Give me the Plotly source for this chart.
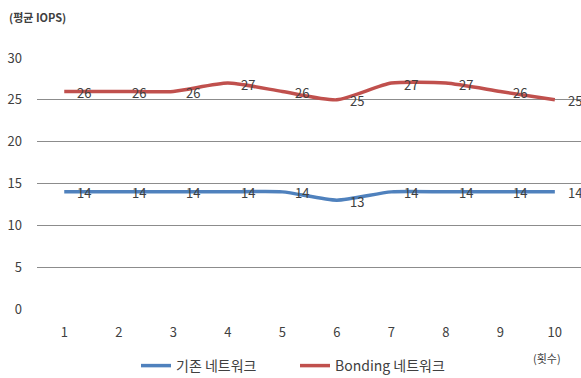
import plotly.graph_objects as go

rounds = [1, 2, 3, 4, 5, 6, 7, 8, 9, 10]
existing_net = [14, 14, 14, 14, 14, 13, 14, 14, 14, 14]
bonding_net = [26, 26, 26, 27, 26, 25, 27, 27, 26, 25]
series_names = ["기존 네트워크", "Bonding 네트워크"]
y_ticks = [0, 5, 10, 15, 20, 25, 30]

FONT = "Noto Sans CJK KR"
TXT = "#404040"
W, H = 581, 378
L, R, T, B = 37, 0, 58, 69

fig = go.Figure()
for name, vals, color in [
    (series_names[0], existing_net, "#4F81BD"),
    (series_names[1], bonding_net, "#C0504D"),
]:
    fig.add_trace(go.Scatter(
        x=rounds, y=vals, name=name, mode="lines",
        line=dict(color=color, width=3.5, shape="spline", smoothing=0.6),
        cliponaxis=False,
    ))
    # value labels just right of each point
    for xv, yv in zip(rounds, vals):
        fig.add_annotation(x=xv, y=yv, text=str(yv), showarrow=False,
                           xanchor="left", yanchor="middle", xshift=11, yshift=-1,
                           font=dict(family=FONT, size=13, color=TXT))

fig.update_layout(
    width=W, height=H,
    margin=dict(l=L, r=R, t=T, b=B, autoexpand=False),
    paper_bgcolor="white", plot_bgcolor="white",
    font=dict(family=FONT, size=13, color=TXT),
    showlegend=True,
    legend=dict(orientation="h", xref="container", yref="container",
                x=136 / W, xanchor="left", y=(H - 366) / H, yanchor="middle",
                entrywidth=114, entrywidthmode="pixels",
                font=dict(family=FONT, size=14, color=TXT),
                itemwidth=30, bgcolor="rgba(0,0,0,0)"),
    xaxis=dict(range=[0.5, 10.48], tickmode="array", tickvals=rounds,
               ticktext=[str(r) for r in rounds], showgrid=False, zeroline=False,
               showline=False, ticks="", ticklabelstandoff=14,
               tickfont=dict(family=FONT, size=13, color=TXT)),
    yaxis=dict(range=[0, 30], tickmode="array", tickvals=y_ticks,
               showgrid=True, gridcolor="#8c8c8c", gridwidth=1,
               zeroline=False, showline=False, ticks="", ticklabelstandoff=14,
               tickfont=dict(family=FONT, size=13, color=TXT)),
)

pw = W - L - R
ph = H - T - B
fig.add_annotation(text="<b>(평균 IOPS)</b>", xref="paper", yref="paper",
                   x=(7 - L) / pw, y=(H - B - 17) / ph, xanchor="left", yanchor="middle",
                   showarrow=False, font=dict(family=FONT, size=11, color=TXT))
fig.add_annotation(text="(횟수)", xref="paper", yref="paper",
                   x=(547 - L) / pw, y=(H - B - 358) / ph, xanchor="center", yanchor="middle",
                   showarrow=False, font=dict(family=FONT, size=11, color=TXT))

fig.write_html("out.html")
